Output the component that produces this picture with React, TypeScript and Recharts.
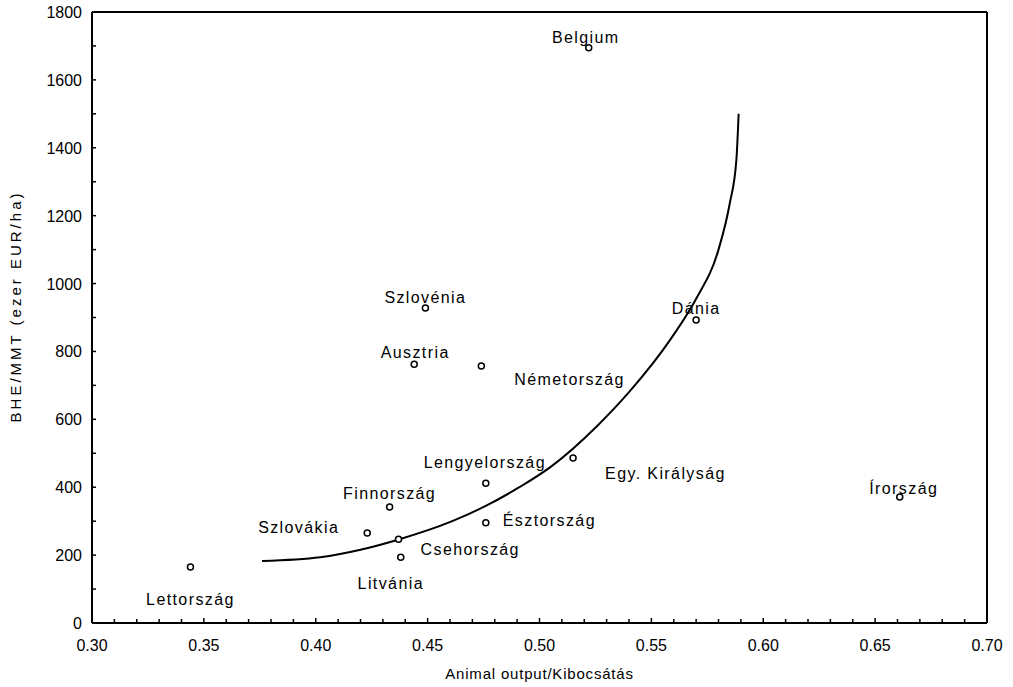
import { ComposedChart, Scatter, Line, XAxis, YAxis } from "recharts";

// országok és értékek (Animal output / BHE/MMT)
const COUNTRIES = [
  "Lettország", "Szlovákia", "Finnország", "Csehország", "Litvánia", "Ausztria", "Szlovénia",
  "Németország", "Lengyelország", "Észtország", "Egy. Királyság", "Belgium", "Dánia", "Írország",
];
const ANIMAL_OUTPUT = [0.344, 0.423, 0.433, 0.437, 0.438, 0.444, 0.449, 0.474, 0.476, 0.476, 0.515, 0.522, 0.570, 0.661];
const BHE_MMT = [165, 265, 342, 247, 194, 762, 928, 757, 412, 295, 486, 1695, 893, 371];

// illesztett görbe
const CURVE_X = [0.376, 0.402, 0.420, 0.436, 0.461, 0.476, 0.491, 0.505, 0.526, 0.540, 0.559, 0.570, 0.580, 0.585, 0.588, 0.589];
const CURVE_Y = [183, 194, 216, 244, 300, 345, 400, 460, 582, 680, 840, 955, 1100, 1235, 1365, 1500];

const X_TICKS = [
  0.30, 0.31, 0.32, 0.33, 0.34, 0.35, 0.36, 0.37, 0.38, 0.39, 0.40, 0.41, 0.42, 0.43, 0.44, 0.45,
  0.46, 0.47, 0.48, 0.49, 0.50, 0.51, 0.52, 0.53, 0.54, 0.55, 0.56, 0.57, 0.58, 0.59, 0.60, 0.61,
  0.62, 0.63, 0.64, 0.65, 0.66, 0.67, 0.68, 0.69, 0.70,
];
const X_LABELS = [0.30, 0.35, 0.40, 0.45, 0.50, 0.55, 0.60, 0.65, 0.70];
const Y_TICKS = [0, 100, 200, 300, 400, 500, 600, 700, 800, 900, 1000, 1100, 1200, 1300, 1400, 1500, 1600, 1700, 1800];
const Y_LABELS = [0, 200, 400, 600, 800, 1000, 1200, 1400, 1600, 1800];

// címke elhelyezés a ponthoz képest
const LABEL_POS: Record<string, { dx: number; dy: number; anchor: string }> = {
  "Lettország": { dx: 0, dy: 38, anchor: "middle" },
  "Szlovákia": { dx: -28, dy: 0, anchor: "end" },
  "Finnország": { dx: 0, dy: -8, anchor: "middle" },
  "Csehország": { dx: 22, dy: 16, anchor: "start" },
  "Litvánia": { dx: -10, dy: 32, anchor: "middle" },
  "Ausztria": { dx: 1, dy: -6, anchor: "middle" },
  "Szlovénia": { dx: 0, dy: -5, anchor: "middle" },
  "Németország": { dx: 33, dy: 19, anchor: "start" },
  "Lengyelország": { dx: -1, dy: -15, anchor: "middle" },
  "Észtország": { dx: 17, dy: 3, anchor: "start" },
  "Egy. Királyság": { dx: 32, dy: 21, anchor: "start" },
  "Belgium": { dx: -3, dy: -5, anchor: "middle" },
  "Dánia": { dx: 0, dy: -6, anchor: "middle" },
  "Írország": { dx: 4, dy: -3, anchor: "middle" },
};

const FONT = "'Liberation Sans', Arial, sans-serif";
const INK = "#000";

const points = COUNTRIES.map((name, i) => ({ name, x: ANIMAL_OUTPUT[i], y: BHE_MMT[i] }));
const curve = CURVE_X.map((x, i) => ({ x, y: CURVE_Y[i] }));

function PointShape(props: any) {
  const { cx, cy, payload } = props;
  if (cx == null || cy == null) return null;
  const pos = LABEL_POS[payload.name] ?? { dx: 0, dy: -6, anchor: "middle" };
  return (
    <g>
      <circle cx={cx} cy={cy} r={3} fill="#fff" stroke={INK} strokeWidth={1.5} />
      <text x={cx + pos.dx} y={cy + pos.dy} textAnchor={pos.anchor as any} fontSize={16} letterSpacing={1.4}
        fontFamily={FONT} fill={INK}>
        {payload.name}
      </text>
    </g>
  );
}

function BottomTick(props: any) {
  const { x, y, payload } = props;
  const v = payload.value as number;
  const major = X_LABELS.some((l) => Math.abs(l - v) < 1e-6);
  return (
    <g>
      <line x1={x} x2={x} y1={y} y2={y - (major ? 5 : 4)} stroke={INK} strokeWidth={1.5} />
      {major && (
        <text x={x} y={y + 28} textAnchor="middle" fontSize={16} fontFamily={FONT} fill={INK}>
          {v.toFixed(2)}
        </text>
      )}
    </g>
  );
}

function TopTick(props: any) {
  const { x, y } = props;
  return <line x1={x} x2={x} y1={y} y2={y + 4} stroke={INK} strokeWidth={1.5} />;
}

function LeftTick(props: any) {
  const { x, y, payload } = props;
  const v = payload.value as number;
  return (
    <g>
      <line x1={x} x2={x + 4} y1={y} y2={y} stroke={INK} strokeWidth={1.5} />
      {Y_LABELS.includes(v) && (
        <text x={x - 10} y={y + 6} textAnchor="end" fontSize={16} fontFamily={FONT} fill={INK}>
          {v}
        </text>
      )}
    </g>
  );
}

function RightTick(props: any) {
  const { x, y } = props;
  return <line x1={x} x2={x - 4} y1={y} y2={y} stroke={INK} strokeWidth={1.5} />;
}

function YTitle(props: any) {
  const vb = props.viewBox;
  const cx = vb.x + 15;
  const cy = vb.y + vb.height / 2 - 11;
  return (
    <text x={cx} y={cy} transform={`rotate(-90 ${cx} ${cy})`} textAnchor="middle" dominantBaseline="central"
      fontSize={15} letterSpacing={3} fontFamily={FONT} fill={INK}>
      BHE/MMT (ezer EUR/ha)
    </text>
  );
}

function XTitle(props: any) {
  const vb = props.viewBox;
  const cx = vb.x + vb.width / 2;
  const cy = vb.y + 50;
  return (
    <text x={cx} y={cy} textAnchor="middle" dominantBaseline="central" fontSize={15} letterSpacing={0.8}
      fontFamily={FONT} fill={INK}>
      Animal output/Kibocsátás
    </text>
  );
}

export default function App() {
  return (
    <div style={{ position: "absolute", left: 0, top: 0, width: 1013, height: 687, background: "#fff", fontFamily: FONT }}>
      <ComposedChart width={1013} height={687} margin={{ top: 0, right: 0, bottom: 0, left: 0 }}>
        <XAxis
          dataKey="x"
          type="number"
          domain={[0.3, 0.7]}
          ticks={X_TICKS}
          interval={0}
          tick={<BottomTick />}
          tickSize={0}
          tickMargin={0}
          tickLine={false}
          axisLine={{ stroke: INK, strokeWidth: 2 }}
          height={64}
          allowDataOverflow
          label={<XTitle />}
        />
        <XAxis
          xAxisId="top"
          orientation="top"
          type="number"
          domain={[0.3, 0.7]}
          ticks={X_TICKS}
          interval={0}
          tick={<TopTick />}
          tickSize={0}
          tickMargin={0}
          tickLine={false}
          axisLine={{ stroke: INK, strokeWidth: 2 }}
          height={12}
        />
        <YAxis
          dataKey="y"
          type="number"
          domain={[0, 1800]}
          ticks={Y_TICKS}
          interval={0}
          tick={<LeftTick />}
          tickSize={0}
          tickMargin={0}
          tickLine={false}
          axisLine={{ stroke: INK, strokeWidth: 2 }}
          width={92}
          allowDataOverflow
          label={<YTitle />}
        />
        <YAxis
          yAxisId="right"
          orientation="right"
          type="number"
          domain={[0, 1800]}
          ticks={Y_TICKS}
          interval={0}
          tick={<RightTick />}
          tickSize={0}
          tickMargin={0}
          tickLine={false}
          axisLine={{ stroke: INK, strokeWidth: 2 }}
          width={26}
        />
        <Line
          data={curve}
          dataKey="y"
          type="monotone"
          stroke={INK}
          strokeWidth={2}
          dot={false}
          activeDot={false}
          isAnimationActive={false}
        />
        <Scatter data={points} dataKey="y" shape={<PointShape />} isAnimationActive={false} />
      </ComposedChart>
    </div>
  );
}
